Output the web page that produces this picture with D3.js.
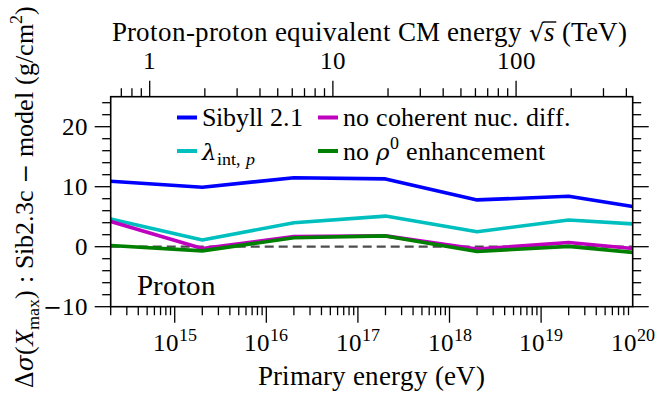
<!DOCTYPE html>
<html><head><meta charset="utf-8">
<script src="https://cdn.jsdelivr.net/npm/d3@7"></script>
<style>
@font-face { font-family: "ChartSerif"; src: local("Liberation Serif"), local("LiberationSerif"), local("Liberation Serif Regular"), local("LiberationSerif-Regular"); font-style: normal; }
@font-face { font-family: "ChartSerif"; src: local("Liberation Serif Italic"), local("LiberationSerif-Italic"); font-style: italic; }
html,body{margin:0;padding:0;background:#fff;}
</style>
</head><body>
<svg id="c" width="656" height="407"></svg>
<script>
// ---- data ----
const energies = [2e14, 2e15, 2e16, 2e17, 2e18, 2e19, 1e20];
const sibyll21  = [10.9, 9.9, 11.5, 11.3, 7.8, 8.4, 6.7];
const lambdaInt = [4.6, 1.1, 4.0, 5.1, 2.5, 4.45, 3.8];
const noCohDiff = [4.2, -0.3, 1.7, 1.8, -0.4, 0.7, -0.3];
const noRho0    = [0.2, -0.7, 1.5, 1.8, -0.8, 0.05, -0.95];
const xDomain = [2e14, 1e20];
const yDomain = [-10, 25];
const yTicks = [-10, 0, 10, 20];
const xTicks = [1e15, 1e16, 1e17, 1e18, 1e19, 1e20];
const topTicks = [1, 10, 100];

const FONT = "ChartSerif, 'Liberation Serif', serif";
const SYMFONT = "'DejaVu Serif', 'Liberation Serif', serif";
const svg = d3.select("#c");
const L = 110.7, R = 632.7, T = 96.7, B = 306.7;
const FS = 25;
const x = d3.scaleLog().domain(xDomain).range([L, R]);
const y = d3.scaleLinear().domain(yDomain).range([B, T]);
// sqrt(s) in TeV for fixed-target proton-proton: s = 2 m_p E
const mp = 0.938e9;
const sqrtS = E => Math.sqrt(2 * mp * E) / 1e12;
const xt = d3.scaleLog().domain(xDomain.map(sqrtS)).range([L, R]);

function txt(parent) {
  return parent.append("text").style("font-family", FONT).attr("fill", "#000");
}
function rich(sel, segs, size) {
  let shift = 0;
  segs.forEach(s => {
    const ts = sel.append("tspan").text(s.t).style("font-family", s.sym ? SYMFONT : FONT);
    let target = 0, fs = size;
    if (s.sup) { target = -0.42 * size; fs = size * 0.7; }
    if (s.sub) { target = 0.22 * size; fs = size * 0.7; }
    if (s.sym && !s.sup && !s.sub) fs = size * 0.9;
    ts.attr("font-size", fs).attr("dy", target - shift);
    if (s.it) ts.attr("font-style", "italic");
    shift = target;
  });
  return sel;
}

// lines
const line = d3.line().x((d, i) => x(energies[i])).y(d => y(d));
svg.append("line").attr("x1", x(xDomain[0])).attr("x2", x(xDomain[1]))
  .attr("y1", y(0)).attr("y2", y(0))
  .attr("stroke", "#4d4d4d").attr("stroke-width", 2.2).attr("stroke-dasharray", "9,5");
const colors = ["#0000ff", "#00bfbf", "#bf00bf", "#008000"];
[sibyll21, lambdaInt, noCohDiff, noRho0].forEach((s, k) => {
  svg.append("path").attr("d", line(s)).attr("fill", "none")
    .attr("stroke", colors[k]).attr("stroke-width", 3.6).attr("stroke-linejoin", "round");
});

// frame
svg.append("rect").attr("x", L).attr("y", T).attr("width", R - L).attr("height", B - T)
  .attr("fill", "none").attr("stroke", "#000").attr("stroke-width", 1.6);

const tk = svg.append("g").attr("stroke", "#000").attr("stroke-width", 1.3);
const MAJ = 16, MIN = 8.5;
// bottom
const bMinor = [];
for (let e = 14; e <= 19; e++) for (let m = 1; m <= 9; m++) {
  const v = m * Math.pow(10, e);
  if (v >= xDomain[0] * 0.999 && v <= xDomain[1] * 1.001) bMinor.push(v);
}
bMinor.forEach(v => {
  const major = xTicks.some(t => Math.abs(t / v - 1) < 1e-6);
  tk.append("line").attr("x1", x(v)).attr("x2", x(v)).attr("y1", B).attr("y2", B + (major ? MAJ : MIN));
});
xTicks.forEach(v => {
  const t = txt(svg).attr("x", x(v)).attr("y", 351).attr("text-anchor", "middle").attr("font-size", FS);
  rich(t, [{t: "10"}, {t: String(Math.round(Math.log10(v))), sup: true}], FS);
});
// top
const tMinor = [];
for (let e = -1; e <= 2; e++) for (let m = 1; m <= 9; m++) {
  const v = m * Math.pow(10, e);
  const d = xt.domain();
  if (v >= d[0] && v <= d[1]) tMinor.push(v);
}
tMinor.forEach(v => {
  const major = topTicks.some(t => Math.abs(t / v - 1) < 1e-6);
  tk.append("line").attr("x1", xt(v)).attr("x2", xt(v)).attr("y1", T).attr("y2", T - (major ? MAJ : MIN));
});
topTicks.forEach(v => {
  txt(svg).attr("x", xt(v)).attr("y", 69).attr("text-anchor", "middle")
    .attr("font-size", FS).text(String(v));
});
// left/right
for (let v = yDomain[0]; v <= yDomain[1]; v += 2) {
  const major = yTicks.includes(v);
  const len = major ? MAJ : MIN;
  tk.append("line").attr("x1", L - len).attr("x2", L).attr("y1", y(v)).attr("y2", y(v));
  tk.append("line").attr("x1", R).attr("x2", R + len).attr("y1", y(v)).attr("y2", y(v));
}
yTicks.forEach(v => {
  const t = txt(svg).attr("x", 88).attr("y", y(v) + 8.5).attr("text-anchor", "end").attr("font-size", FS);
  if (v < 0) rich(t, [{t: "\u2212", sym: true}, {t: String(Math.abs(v))}], FS);
  else t.text(String(v));
});

// axis labels
txt(svg).attr("x", (L + R) / 2).attr("y", 385).attr("text-anchor", "middle")
  .attr("font-size", 26.5).text("Primary energy (eV)");
const tt = txt(svg).attr("x", (L + R) / 2 - 2).attr("y", 41).attr("text-anchor", "middle").attr("font-size", 26.5);
rich(tt, [{t: "Proton-proton equivalent CM energy "}, {t: "\u221A", sym: true}, {t: "s", it: true}, {t: " (TeV)"}], 26.5);
(function () {
  const node = tt.node();
  const str = node.textContent;
  const i = str.indexOf("\u221A");
  const p1 = node.getEndPositionOfChar(i + 1);
  const e0 = node.getEndPositionOfChar(i);
  svg.append("line").attr("x1", e0.x - 1).attr("x2", p1.x + 1)
    .attr("y1", 41 - 19).attr("y2", 41 - 19).attr("stroke", "#000").attr("stroke-width", 1.4);
})();

const yl = txt(svg).attr("transform", "translate(33,197) rotate(-90)")
  .attr("text-anchor", "middle").attr("font-size", 26);
rich(yl, [{t: "\u0394", sym: true}, {t: "\u03C3", it: true, sym: true}, {t: "("}, {t: "X", it: true}, {t: "max", sub: true},
  {t: ") : Sib2.3c "}, {t: "\u2212", sym: true}, {t: " model (g/cm"}, {t: "2", sup: true}, {t: ")"}], 26);

// Proton label
txt(svg).attr("x", 137).attr("y", 294.5).attr("font-size", 29).text("Proton");

// legend
const legend = [
  {c: colors[0], x: 177, y: 117.5, segs: [{t: "Sibyll 2.1"}]},
  {c: colors[1], x: 177, y: 151, segs: [{t: "\u03BB", it: true, sym: true}, {t: "int, ", sub: true}, {t: "p", sub: true, it: true}]},
  {c: colors[2], x: 318, y: 117.5, segs: [{t: "no coherent nuc. diff."}]},
  {c: colors[3], x: 318, y: 151, segs: [{t: "no "}, {t: "\u03C1", it: true, sym: true}, {t: "0", sup: true}, {t: " enhancement"}]}
];
legend.forEach(l => {
  svg.append("line").attr("x1", l.x).attr("x2", l.x + 20).attr("y1", l.y).attr("y2", l.y)
    .attr("stroke", l.c).attr("stroke-width", 4);
  const t = txt(svg).attr("x", l.x + 25).attr("y", l.y + 8.5).attr("font-size", 25.5);
  rich(t, l.segs, 25.5);
});
</script>
</body></html>
